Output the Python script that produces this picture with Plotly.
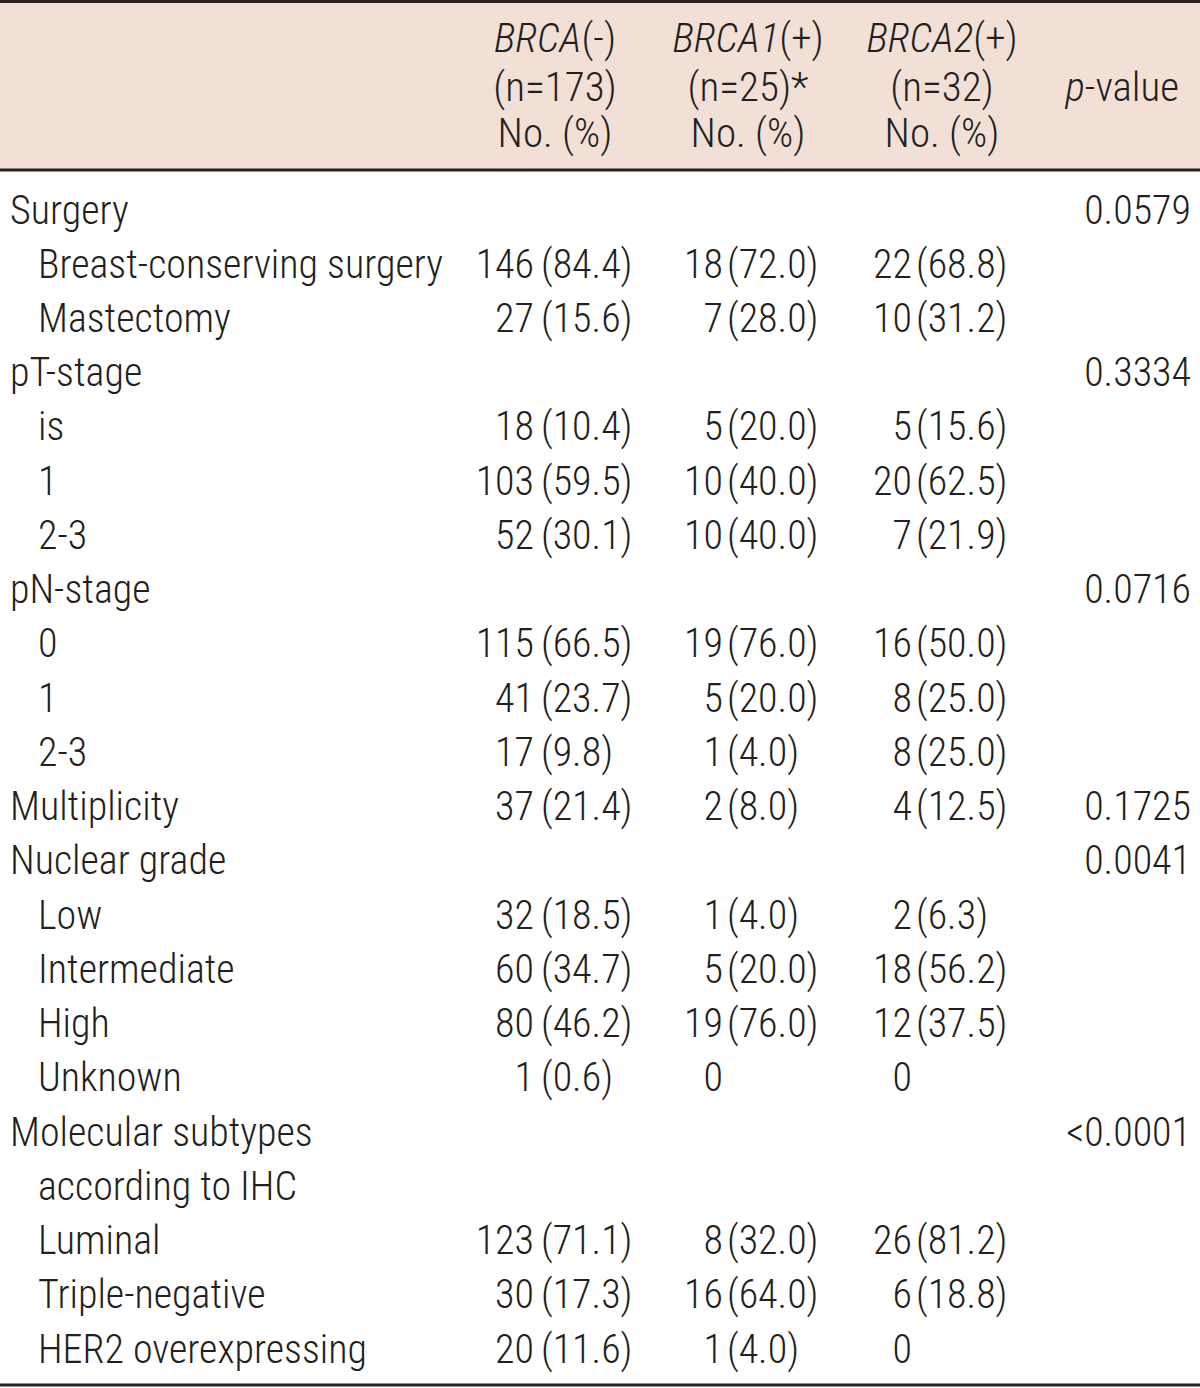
import plotly.graph_objects as go

# ---------------- data ----------------
row_labels = [
    "Surgery", "Breast-conserving surgery", "Mastectomy",
    "pT-stage", "is", "1", "2-3",
    "pN-stage", "0", "1", "2-3",
    "Multiplicity",
    "Nuclear grade", "Low", "Intermediate", "High", "Unknown",
    "Molecular subtypes", "according to IHC", "Luminal", "Triple-negative", "HER2 overexpressing",
]
row_indent = [0, 1, 1, 0, 1, 1, 1, 0, 1, 1, 1, 0, 0, 1, 1, 1, 1, 0, 1, 1, 1, 1]

brca_neg_n = [None, 146, 27, None, 18, 103, 52, None, 115, 41, 17, 37, None, 32, 60, 80, 1, None, None, 123, 30, 20]
brca_neg_pct = [None, 84.4, 15.6, None, 10.4, 59.5, 30.1, None, 66.5, 23.7, 9.8, 21.4, None, 18.5, 34.7, 46.2, 0.6, None, None, 71.1, 17.3, 11.6]
brca1_n = [None, 18, 7, None, 5, 10, 10, None, 19, 5, 1, 2, None, 1, 5, 19, 0, None, None, 8, 16, 1]
brca1_pct = [None, 72.0, 28.0, None, 20.0, 40.0, 40.0, None, 76.0, 20.0, 4.0, 8.0, None, 4.0, 20.0, 76.0, None, None, None, 32.0, 64.0, 4.0]
brca2_n = [None, 22, 10, None, 5, 20, 7, None, 16, 8, 8, 4, None, 2, 18, 12, 0, None, None, 26, 6, 0]
brca2_pct = [None, 68.8, 31.2, None, 15.6, 62.5, 21.9, None, 50.0, 25.0, 25.0, 12.5, None, 6.3, 56.2, 37.5, None, None, None, 81.2, 18.8, None]
p_values = ["0.0579", "", "", "0.3334", "", "", "", "0.0716", "", "", "", "0.1725", "0.0041",
            "", "", "", "", "<0.0001", "", "", "", ""]

header_groups = ["<i>BRCA</i>(-)", "<i>BRCA1</i>(+)", "<i>BRCA2</i>(+)"]
header_ns = ["(n=173)", "(n=25)*", "(n=32)"]
header_units = ["No. (%)", "No. (%)", "No. (%)"]
p_header = "<i>p</i>-value"

# ---------------- layout constants (pixels) ----------------
W, H = 1200, 1388
ROW_PITCH = 54.24
FIRST_ROW_PX = 209 + 4.5     # centre of first body row (text anchor)
HEADER_LINES_PX = [37.5 + 4.5, 86 + 4.5, 132 + 4.5]
HEADER_BOTTOM_PX = 170
BOTTOM_PX = 1385
LABEL_X, INDENT = 10, 28
COUNT_RIGHT = [534, 723, 912]
PCT_LEFT = [541, 727, 916]
GROUP_CENTER = [555, 748, 942]
P_RIGHT = 1191
P_HEADER_RIGHT = 1179

TEXT_COLOR = "#231f20"
LINE_COLOR = "#2b221f"
HEADER_FILL = "#f2e0d6"
FONT = dict(family="Roboto Condensed, Liberation Sans Narrow, Arial Narrow, sans-serif",
            size=40, color=TEXT_COLOR, weight=300)
HEADER_FONT = dict(FONT, size=41)


def row_of(px):
    return (px - FIRST_ROW_PX) / ROW_PITCH


def ypaper(px):
    return 1 - px / H


rows = list(range(len(row_labels)))
fig = go.Figure()


def add_text(xs, ys, texts, pos, font=FONT):
    fig.add_trace(go.Scatter(
        x=xs, y=ys, text=texts, mode="text", textposition=pos,
        textfont=font, hoverinfo="skip", showlegend=False, cliponaxis=False,
    ))


# row labels
add_text([LABEL_X + INDENT * ind for ind in row_indent], rows, row_labels, "middle right")

# counts and percentages
groups = [(brca_neg_n, brca_neg_pct), (brca1_n, brca1_pct), (brca2_n, brca2_pct)]
for g, (ns, pcts) in enumerate(groups):
    ys = [r for r, n in zip(rows, ns) if n is not None]
    add_text([COUNT_RIGHT[g]] * len(ys), ys, [str(n) for n in ns if n is not None], "middle left")
    ys = [r for r, p in zip(rows, pcts) if p is not None]
    add_text([PCT_LEFT[g]] * len(ys), ys, ["(%.1f)" % p for p in pcts if p is not None], "middle right")

# p-values
ys = [r for r, p in zip(rows, p_values) if p]
add_text([P_RIGHT] * len(ys), ys, [p for p in p_values if p], "middle left")

# header
for g in range(3):
    add_text([GROUP_CENTER[g]] * 3, [row_of(px) for px in HEADER_LINES_PX],
             [header_groups[g], header_ns[g], header_units[g]], "middle center", HEADER_FONT)
add_text([P_HEADER_RIGHT], [row_of(HEADER_LINES_PX[1])], [p_header], "middle left", HEADER_FONT)

shapes = [
    dict(type="rect", xref="paper", yref="paper", x0=0, x1=1,
         y0=ypaper(HEADER_BOTTOM_PX), y1=1, fillcolor=HEADER_FILL, line=dict(width=0), layer="below"),
    dict(type="line", xref="paper", yref="paper", x0=0, x1=1, y0=ypaper(1.5), y1=ypaper(1.5),
         line=dict(color=LINE_COLOR, width=3)),
    dict(type="line", xref="paper", yref="paper", x0=0, x1=1, y0=ypaper(HEADER_BOTTOM_PX), y1=ypaper(HEADER_BOTTOM_PX),
         line=dict(color=LINE_COLOR, width=3)),
    dict(type="line", xref="paper", yref="paper", x0=0, x1=1, y0=ypaper(BOTTOM_PX), y1=ypaper(BOTTOM_PX),
         line=dict(color=LINE_COLOR, width=3)),
]

fig.update_layout(
    width=W, height=H, margin=dict(l=0, r=0, t=0, b=0),
    paper_bgcolor="white", plot_bgcolor="white",
    xaxis=dict(range=[0, W], visible=False, fixedrange=True),
    yaxis=dict(range=[row_of(H), row_of(0)], visible=False, fixedrange=True),
    shapes=shapes, showlegend=False,
)

fig.write_html("out.html", config={"displayModeBar": False},
               post_script="document.body.style.margin='0px';")
